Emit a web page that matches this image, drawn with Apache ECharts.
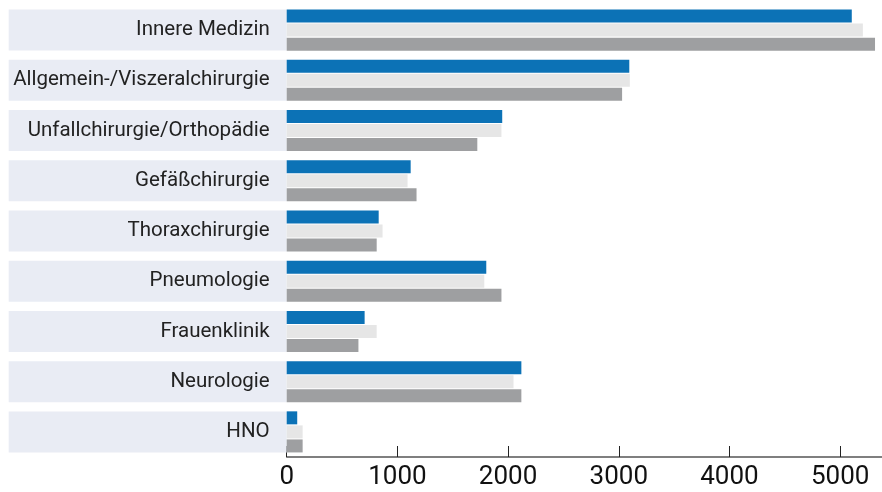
<!DOCTYPE html>
<html>
<head>
<meta charset="utf-8">
<script src="https://cdn.jsdelivr.net/npm/echarts@6/dist/echarts.min.js"></script>
<style>html,body{margin:0;padding:0;background:#fff}#c{width:882px;height:492px}</style>
</head>
<body>
<div id="c"></div>
<script>
const categories = ['Innere Medizin','Allgemein-/Viszeralchirurgie','Unfallchirurgie/Orthopädie','Gefäßchirurgie','Thoraxchirurgie','Pneumologie','Frauenklinik','Neurologie','HNO'];
const seriesBlue = [5105, 3095, 1947, 1120, 831, 1803, 704, 2120, 95];
const seriesLight = [5205, 3100, 1940, 1092, 866, 1785, 813, 2049, 144];
const seriesDark = [5315, 3030, 1722, 1173, 813, 1940, 648, 2120, 144];
const xTicks = [0, 1000, 2000, 3000, 4000, 5000];

const chart = echarts.init(document.getElementById('c'), null, {renderer: 'canvas'});
const font = 'Roboto';
function bar(name, data, color) {
  return {name, type: 'bar', data, barWidth: 13, barGap: '8%', itemStyle: {color}, silent: true, animation: false};
}
chart.setOption({
  animation: false,
  grid: {left: 286.7, right: 0, top: 5, height: 452, containLabel: false, outerBoundsMode: 'none'},
  xAxis: {
    type: 'value', min: 0, max: 5378, interval: 1000,
    axisLine: {show: true, lineStyle: {color: '#555', width: 1.5}},
    axisTick: {show: true, inside: true, length: 11, lineStyle: {color: '#222', width: 1}},
    splitLine: {show: false},
    axisLabel: {
      fontFamily: font, fontSize: 26, color: '#111', margin: 7, showMaxLabel: false,
      formatter: v => xTicks.includes(v) ? String(v) : ''
    }
  },
  yAxis: {
    type: 'category', data: categories, inverse: true,
    axisLine: {show: false}, axisTick: {show: false},
    axisLabel: {
      fontFamily: font, fontSize: 20.5, color: '#222', margin: 0,
      align: 'right', width: 261, height: 41, lineHeight: 43, overflow: 'none',
      padding: [0, 17, 0, 0], backgroundColor: '#e9ecf4'
    }
  },
  series: [
    bar('A', seriesBlue, '#0c72b6'),
    bar('B', seriesLight, '#e6e6e6'),
    bar('C', seriesDark, '#9e9fa1')
  ]
});
</script>
</body>
</html>
